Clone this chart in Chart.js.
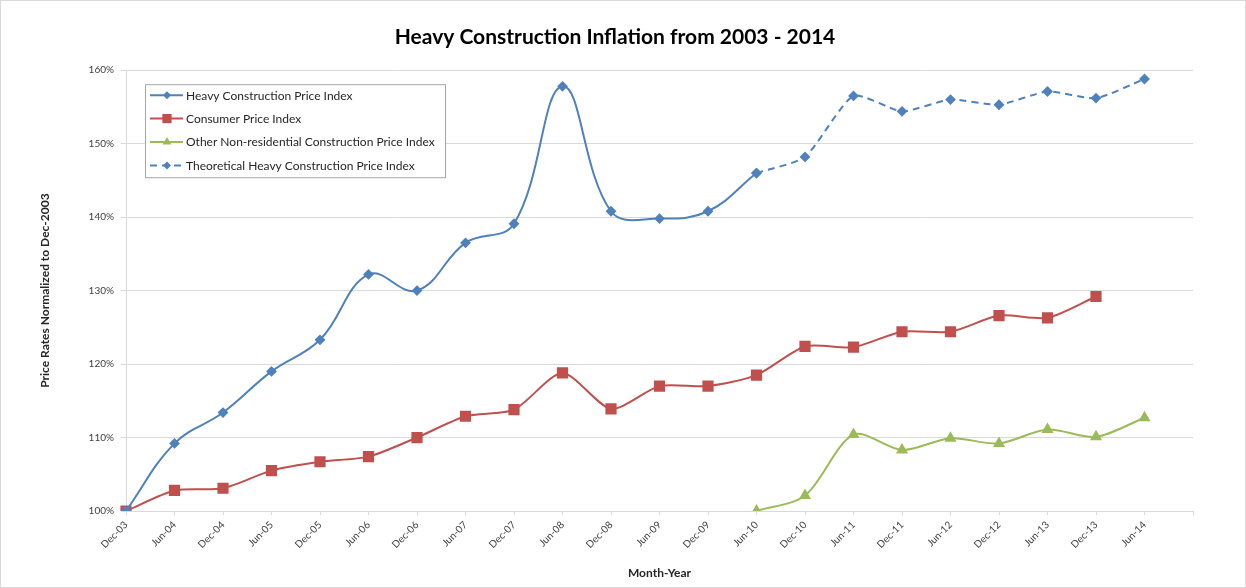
<!DOCTYPE html>
<html>
<head>
<meta charset="utf-8">
<title>Heavy Construction Inflation from 2003 - 2014</title>
<script src="https://cdn.jsdelivr.net/npm/chart.js"></script>
<style>
  html, body { margin: 0; padding: 0; background: #fff; }
  #wrap { width: 1246px; height: 588px; box-sizing: border-box; border: 1px solid #d9d9d9; }
  canvas { display: block; }
</style>
</head>
<body>
<div id="wrap"><canvas id="inflationChart" width="1244" height="586"></canvas></div>
<script>
const months = ['Dec-03', 'Jun-04', 'Dec-04', 'Jun-05', 'Dec-05', 'Jun-06', 'Dec-06', 'Jun-07',
  'Dec-07', 'Jun-08', 'Dec-08', 'Jun-09', 'Dec-09', 'Jun-10', 'Dec-10', 'Jun-11', 'Dec-11',
  'Jun-12', 'Dec-12', 'Jun-13', 'Dec-13', 'Jun-14', ''];

// percent of Dec-2003 level
const heavyIndex = [100, 109.2, 113.4, 119.0, 123.3, 132.2, 130.0, 136.5, 139.1, 157.8, 140.8,
  139.8, 140.8, 146.0, null, null, null, null, null, null, null, null, null];
const consumerIndex = [100, 102.8, 103.1, 105.5, 106.7, 107.4, 110.0, 112.9, 113.8, 118.8, 113.9,
  117.0, 117.0, 118.5, 122.4, 122.3, 124.4, 124.4, 126.6, 126.3, 129.2, null, null];
const otherNonResIndex = [null, null, null, null, null, null, null, null, null, null, null, null,
  null, 100, 102.1, 110.4, 108.3, 109.9, 109.2, 111.1, 110.1, 112.7, null];
const theoreticalIndex = [null, null, null, null, null, null, null, null, null, null, null, null,
  null, 146.0, 148.2, 156.5, 154.4, 156.0, 155.3, 157.1, 156.2, 158.8, null];

const yTicks = [100, 110, 120, 130, 140, 150, 160];

Chart.defaults.font.family = 'Lato, "Open Sans", sans-serif';
Chart.defaults.color = '#333';

function marker(ctx, style, r, x, y) {
  ctx.beginPath();
  if (style === 'rect') {
    const s = r * Math.SQRT1_2;
    ctx.rect(x - s, y - s, 2 * s, 2 * s);
  } else if (style === 'triangle') {
    ctx.moveTo(x, y - r);
    ctx.lineTo(x + r * 0.87, y + r * 0.5);
    ctx.lineTo(x - r * 0.87, y + r * 0.5);
    ctx.closePath();
  } else {
    ctx.moveTo(x, y - r);
    ctx.lineTo(x + r, y);
    ctx.lineTo(x, y + r);
    ctx.lineTo(x - r, y);
    ctx.closePath();
  }
  ctx.fill();
}

// Excel style legend box sitting inside the plot
const insideLegend = {
  id: 'insideLegend',
  afterDraw(chart) {
    const { ctx, chartArea } = chart;
    const x = chartArea.left + 19, y = chartArea.top + 14, w = 300, h = 93;
    ctx.save();
    ctx.fillStyle = '#fff';
    ctx.fillRect(x, y, w, h);
    ctx.strokeStyle = '#a6a6a6';
    ctx.lineWidth = 1;
    ctx.strokeRect(x + 0.5, y + 0.5, w, h);
    chart.data.datasets.forEach((ds, i) => {
      const cy = y + 11 + i * 23.4;
      ctx.strokeStyle = ds.borderColor;
      ctx.lineWidth = ds.borderWidth;
      ctx.setLineDash(ds.borderDash || []);
      ctx.beginPath();
      ctx.moveTo(x + 5, cy);
      ctx.lineTo(x + 38, cy);
      ctx.stroke();
      ctx.setLineDash([]);
      ctx.fillStyle = ds.pointBackgroundColor;
      marker(ctx, ds.pointStyle, ds.pointRadius, x + 22, cy);
      ctx.fillStyle = '#262626';
      ctx.font = '12px Lato';
      ctx.textBaseline = 'middle';
      ctx.fillText(ds.label, x + 41, cy + 0.5);
    });
    ctx.restore();
  }
};

new Chart(document.getElementById('inflationChart'), {
  type: 'line',
  data: {
    labels: months,
    datasets: [{
      label: 'Heavy Construction Price Index',
      data: heavyIndex,
      borderColor: '#4f81bd',
      pointBackgroundColor: '#4f81bd',
      pointBorderColor: '#4f81bd',
      borderWidth: 2,
      pointStyle: 'rectRot',
      pointRadius: 4,
      tension: 0.4
    }, {
      label: 'Consumer Price Index',
      data: consumerIndex,
      borderColor: '#c0504d',
      pointBackgroundColor: '#c0504d',
      pointBorderColor: '#c0504d',
      borderWidth: 2,
      pointStyle: 'rect',
      pointRadius: 6.5,
      tension: 0.25
    }, {
      label: 'Other Non-residential Construction Price Index',
      data: otherNonResIndex,
      borderColor: '#9bbb59',
      pointBackgroundColor: '#9bbb59',
      pointBorderColor: '#9bbb59',
      borderWidth: 2,
      pointStyle: 'triangle',
      pointRadius: 5,
      tension: 0.3
    }, {
      label: 'Theoretical Heavy Construction Price Index',
      data: theoreticalIndex,
      borderColor: '#4f81bd',
      pointBackgroundColor: '#4f81bd',
      pointBorderColor: '#4f81bd',
      borderWidth: 2,
      borderDash: [7, 5],
      pointStyle: 'rectRot',
      pointRadius: 4,
      tension: 0.2
    }]
  },
  options: {
    responsive: false,
    animation: false,
    layout: { padding: { left: 36, right: 52, top: 0, bottom: 0 } },
    plugins: {
      legend: { display: false },
      tooltip: { enabled: false },
      title: {
        display: true,
        text: 'Heavy Construction Inflation from 2003 - 2014',
        color: '#000',
        font: { size: 21, weight: 'bold' },
        padding: { top: 24, bottom: 20 }
      }
    },
    scales: {
      x: {
        offset: false,
        grid: { drawOnChartArea: false, color: '#d9d9d9', tickLength: 4 },
        border: { color: '#d9d9d9' },
        ticks: { autoSkip: false, minRotation: 45, maxRotation: 45, padding: 4, color: '#404040', font: { size: 10 } },
        title: { display: true, text: 'Month-Year', color: '#262626', font: { size: 12, weight: 'bold' }, padding: { top: 0, bottom: 7 } },
        afterFit: (scale) => { scale.height = 76; }
      },
      y: {
        min: 100,
        max: 160,
        afterBuildTicks: (scale) => { scale.ticks = yTicks.map(v => ({ value: v })); },
        grid: { color: '#d9d9d9', tickLength: 5 },
        border: { color: '#d9d9d9' },
        ticks: { padding: 7, color: '#404040', font: { size: 10 }, callback: (v) => v + '%' },
        title: { display: true, text: 'Price Rates Normalized to Dec-2003', color: '#262626', font: { size: 12, weight: 'bold' }, padding: { top: 1, bottom: 0 } },
        afterFit: (scale) => { scale.width = 89; }
      }
    }
  },
  plugins: [insideLegend]
});
</script>
</body>
</html>
